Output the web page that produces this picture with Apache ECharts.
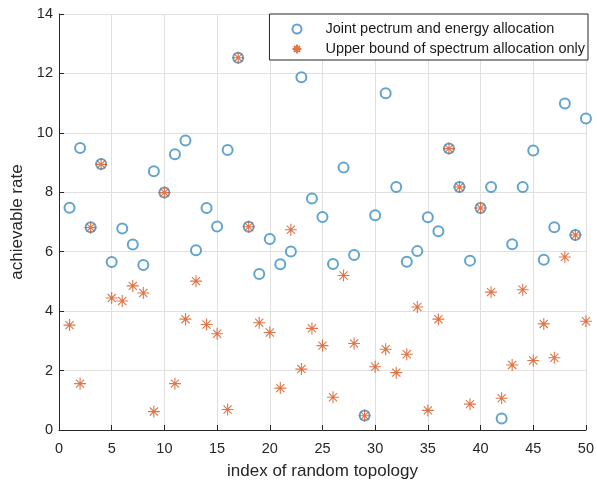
<!DOCTYPE html>
<html>
<head>
<meta charset="utf-8">
<script src="https://cdn.jsdelivr.net/npm/echarts@6/dist/echarts.min.js"></script>
<style>
  html, body { margin: 0; padding: 0; background: #fff; }
  #main { width: 597px; height: 485px; }
</style>
</head>
<body>
<div id="main"></div>
<script>
// index of random topology
var topology = [];
for (var i = 1; i <= 50; i++) topology.push(i);

// Joint pectrum and energy allocation (circles)
var jointRate = [
  7.48, 9.49, 6.82, 8.95, 5.65, 6.78, 6.24, 5.55, 8.71, 7.99,
  9.28, 9.74, 6.05, 7.47, 6.85, 9.42, 12.53, 6.84, 5.25, 6.43,
  5.58, 6.01, 11.87, 7.79, 7.17, 5.59, 8.83, 5.89, 0.49, 7.23,
  11.33, 8.18, 5.66, 6.02, 7.16, 6.69, 9.47, 8.18, 5.70, 7.47,
  8.18, 0.39, 6.25, 8.18, 9.41, 5.73, 6.82, 10.99, 6.56, 10.48
];

// Upper bound of spectrum allocation only (stars)
var upperRate = [
  3.53, 1.56, 6.81, 8.94, 4.44, 4.34, 4.85, 4.61, 0.62, 7.99,
  1.56, 3.73, 5.01, 3.55, 3.24, 0.69, 12.53, 6.84, 3.61, 3.28,
  1.41, 6.74, 2.05, 3.42, 2.84, 1.10, 5.20, 2.91, 0.48, 2.13,
  2.72, 1.93, 2.55, 4.14, 0.66, 3.73, 9.47, 8.18, 0.87, 7.47,
  4.64, 1.07, 2.19, 4.72, 2.34, 3.57, 2.43, 5.82, 6.56, 3.66
];

var xTicks = [0, 5, 10, 15, 20, 25, 30, 35, 40, 45, 50];
var yTicks = [0, 2, 4, 6, 8, 10, 12, 14];

function pairs(ys) {
  var out = [];
  for (var k = 0; k < ys.length; k++) out.push([topology[k], ys[k]]);
  return out;
}

// matlab style asterisk
var star = 'path://M5,0L5,10M0,5L10,5M1.6,1.6L8.4,8.4M1.6,8.4L8.4,1.6';

var chart = echarts.init(document.getElementById('main'));

var option = {
  backgroundColor: '#fff',
  animation: false,
  textStyle: { fontFamily: 'Liberation Sans, Arial, sans-serif' },
  grid: { left: 59, right: 7, top: 14, bottom: 53 },
  legend: {
    orient: 'vertical',
    right: 9,
    top: 14,
    backgroundColor: '#fff',
    borderColor: '#262626',
    borderWidth: 1,
    borderRadius: 0,
    padding: [7, 3, 3, 22],
    itemGap: 4,
    itemWidth: 9,
    itemHeight: 9,
    textStyle: { fontSize: 14.5, lineHeight: 16, color: '#1a1a1a', padding: [0, 0, 0, 19] },
    data: [
      { name: 'Joint pectrum and energy allocation', icon: 'emptyCircle' },
      { name: 'Upper bound of spectrum allocation only', icon: star }
    ]
  },
  xAxis: {
    type: 'value',
    min: xTicks[0],
    max: xTicks[xTicks.length - 1],
    interval: 5,
    name: 'index of random topology',
    nameLocation: 'middle',
    nameGap: 33,
    nameTextStyle: { fontSize: 17, color: '#262626' },
    axisLine: { lineStyle: { color: '#262626', width: 1 } },
    axisTick: { inside: true, length: 5, lineStyle: { color: '#262626' } },
    axisLabel: { fontSize: 14.5, color: '#262626', margin: 11 },
    splitLine: { show: true, lineStyle: { color: '#e0e0e0', width: 1 } }
  },
  yAxis: {
    type: 'value',
    min: yTicks[0],
    max: yTicks[yTicks.length - 1],
    interval: 2,
    name: 'achievable rate',
    nameLocation: 'middle',
    nameGap: 27,
    nameTextStyle: { fontSize: 17, color: '#262626' },
    axisLine: { show: true, lineStyle: { color: '#262626', width: 1 } },
    axisTick: { show: true, inside: true, length: 5, lineStyle: { color: '#262626' } },
    axisLabel: { fontSize: 14.5, color: '#262626', margin: 6 },
    splitLine: { show: true, lineStyle: { color: '#e0e0e0', width: 1 } }
  },
  series: [
    {
      name: 'Joint pectrum and energy allocation',
      type: 'scatter',
      data: pairs(jointRate),
      symbol: 'emptyCircle',
      symbolSize: 10,
      itemStyle: { color: '#3a8dc2', borderColor: '#3a8dc2', borderWidth: 1.3 }
    },
    {
      name: 'Upper bound of spectrum allocation only',
      type: 'scatter',
      data: pairs(upperRate),
      symbol: star,
      symbolSize: 12,
      itemStyle: { color: 'rgba(0,0,0,0)', borderColor: '#d95319', borderWidth: 1.1 }
    }
  ]
};

chart.setOption(option);
</script>
</body>
</html>
